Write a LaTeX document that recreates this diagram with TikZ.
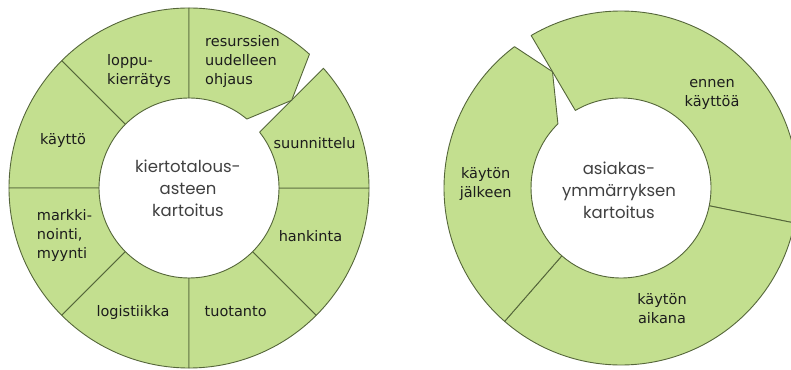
\documentclass[tikz,border=0pt]{standalone}
\usepackage{fontspec}
\setmainfont{DejaVu Sans}
\newfontfamily\hubfont{Poppins}
\definecolor{segfill}{HTML}{C3DF8F}
\definecolor{segline}{HTML}{55663A}
\definecolor{labeltext}{HTML}{1C1C1C}
\definecolor{hubtext}{HTML}{404040}
\begin{document}
\begin{tikzpicture}[x=1pt,y=1pt,
  seg/.style={fill=segfill,draw=segline,line width=0.9pt,line join=round},
  lbl/.style={font=\fontsize{14.5}{19}\selectfont,text=labeltext,inner sep=0pt},
  hub/.style={font=\hubfont\fontsize{16.5}{22}\selectfont,text=hubtext,inner sep=0pt,align=center}]
\useasboundingbox (0,0) rectangle (791,369);
\clip (0,0) rectangle (791,369);

% ---- left ring: eight segments around the hub ----
\begin{scope}[shift={(189,181)}]
  \foreach \a in {90,135,180,225,270,315}
    \draw[seg] (\a:90) -- (\a:180) arc[start angle=\a,end angle=\a+45,radius=180]
      -- ({\a+45}:90) arc[start angle=\a+45,end angle=\a,radius=90] -- cycle;
  % suunnittelu: straight leading edge
  \draw[seg] (0:90) -- (0:180) arc[start angle=0,end angle=41.7,radius=180]
    -- (38.3:90) arc[start angle=38.3,end angle=0,radius=90] -- cycle;
  % resurssien uudelleen ohjaus: pointed end
  \draw[seg] (90:90) -- (90:180) arc[start angle=90,end angle=48,radius=180]
    -- (40.5:135) -- (50:90) arc[start angle=50,end angle=90,radius=90] -- cycle;
\end{scope}

% ---- right ring: three segments around the hub ----
\begin{scope}[shift={(621,181)}]
  % ennen kayttoa
  \draw[seg] (-11.4:90) -- (-11.4:177) arc[start angle=-11.4,end angle=120.5,radius=177]
    -- (120.5:90) arc[start angle=120.5,end angle=-11.4,radius=90] -- cycle;
  % kaytön aikana
  \draw[seg] (228.9:90) -- (228.9:177) arc[start angle=228.9,end angle=348.6,radius=177]
    -- (348.6:90) arc[start angle=348.6,end angle=228.9,radius=90] -- cycle;
  % kaytön jalkeen: pointed end
  \draw[seg] (127:177) arc[start angle=127,end angle=228.9,radius=177]
    -- (228.9:90) arc[start angle=228.9,end angle=134.5,radius=90]
    -- (120.5:135) -- cycle;
\end{scope}

% ---- left ring labels ----
\node[lbl,align=left] (resurssit) at (242.5,307) {resurssien\\uudelleen\\ohjaus};
\node[lbl,align=left] (loppu) at (139,298) {loppu-\\kierrätys};
\node[lbl] (kaytto) at (63,228) {käyttö};
\node[lbl,align=left] (markkinointi) at (64.5,133) {markki-\\nointi,\\myynti};
\node[lbl] (logistiikka) at (133,57) {logistiikka};
\node[lbl] (tuotanto) at (235.7,57) {tuotanto};
\node[lbl] (hankinta) at (310.5,133) {hankinta};
\node[lbl] (suunnittelu) at (314.5,226) {suunnittelu};
\node[hub] (kiertotalous) at (188,181) {kiertotalous-\\asteen\\kartoitus};

% ---- right ring labels ----
\node[lbl,align=center] (ennen) at (712,275) {ennen\\käyttöä};
\node[lbl,align=center] (jalkeen) at (485.7,185) {käytön\\jälkeen};
\node[lbl,align=center] (aikana) at (662,60.5) {käytön\\aikana};
\node[hub] (asiakas) at (619,179) {asiakas-\\ymmärryksen\\kartoitus};
\end{tikzpicture}
\end{document}
